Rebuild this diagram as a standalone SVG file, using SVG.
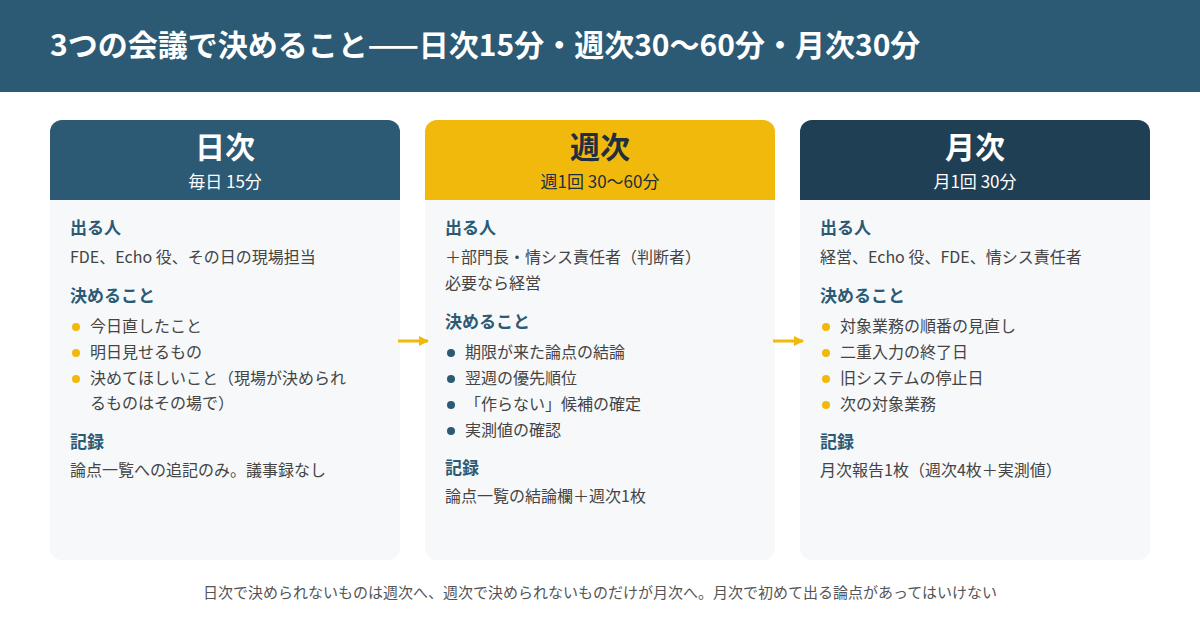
<svg xmlns="http://www.w3.org/2000/svg" width="1200" height="640" viewBox="0 0 1200 640">
<style>
text{font-family:"Noto Sans CJK JP","Noto Sans",sans-serif}
.title{font-size:30px;font-weight:700;fill:#fff}
.ht{font-size:30px;font-weight:700;text-anchor:middle}
.hs{font-size:17px;text-anchor:middle}
.w{fill:#fff}.d{fill:#1f2f3d}
.sec{font-size:17px;font-weight:700;fill:#2c5a74}
.t{font-size:16px;fill:#444}
.body{fill:#f6f8fa}
.foot{font-size:15px;fill:#555;text-anchor:middle}
</style>
<defs>
<marker id="ah" markerWidth="10" markerHeight="10" refX="9" refY="5" orient="auto" markerUnits="userSpaceOnUse"><path d="M0,0 L10,5 L0,10 Z" fill="#f0b90b"/></marker>
</defs>
<rect x="0" y="0" width="1200" height="92" fill="#2c5a74"/>
<text class="title" x="50" y="56">3つの会議で決めること——日次15分・週次30〜60分・月次30分</text>
<g id="daily">
<rect class="body" x="50" y="120" width="350" height="440" rx="12"/>
<path d="M50,200 V132 A12,12 0 0 1 62,120 H388 A12,12 0 0 1 400,132 V200 Z" fill="#2c5a74"/>
<text class="ht w" x="225" y="158">日次</text>
<text class="hs w" x="225" y="188">毎日 15分</text>
<text class="sec" x="70" y="234">出る人</text>
<text class="t" x="70" y="263">FDE、Echo 役、その日の現場担当</text>
<text class="sec" x="70" y="302">決めること</text>
<circle cx="76" cy="327" r="4" fill="#f0b90b"/><text class="t" x="90" y="332">今日直したこと</text>
<circle cx="76" cy="353" r="4" fill="#f0b90b"/><text class="t" x="90" y="358">明日見せるもの</text>
<circle cx="76" cy="379" r="4" fill="#f0b90b"/><text class="t" x="90" y="384">決めてほしいこと（現場が決められ</text>
<text class="t" x="90" y="409">るものはその場で）</text>
<text class="sec" x="70" y="448">記録</text>
<text class="t" x="70" y="476">論点一覧への追記のみ。議事録なし</text>
</g>
<g id="weekly">
<rect class="body" x="425" y="120" width="350" height="440" rx="12"/>
<path d="M425,200 V132 A12,12 0 0 1 437,120 H763 A12,12 0 0 1 775,132 V200 Z" fill="#f0b90b"/>
<text class="ht d" x="600" y="158">週次</text>
<text class="hs d" x="600" y="188">週1回 30〜60分</text>
<text class="sec" x="445" y="234">出る人</text>
<text class="t" x="445" y="263">＋部門長・情シス責任者（判断者）</text>
<text class="t" x="445" y="289">必要なら経営</text>
<text class="sec" x="445" y="328">決めること</text>
<circle cx="451" cy="353" r="4" fill="#2c5a74"/><text class="t" x="465" y="358">期限が来た論点の結論</text>
<circle cx="451" cy="379" r="4" fill="#2c5a74"/><text class="t" x="465" y="384">翌週の優先順位</text>
<circle cx="451" cy="405" r="4" fill="#2c5a74"/><text class="t" x="465" y="410">「作らない」候補の確定</text>
<circle cx="451" cy="431" r="4" fill="#2c5a74"/><text class="t" x="465" y="436">実測値の確認</text>
<text class="sec" x="445" y="474">記録</text>
<text class="t" x="445" y="502">論点一覧の結論欄＋週次1枚</text>
</g>
<g id="monthly">
<rect class="body" x="800" y="120" width="350" height="440" rx="12"/>
<path d="M800,200 V132 A12,12 0 0 1 812,120 H1138 A12,12 0 0 1 1150,132 V200 Z" fill="#1f3f55"/>
<text class="ht w" x="975" y="158">月次</text>
<text class="hs w" x="975" y="188">月1回 30分</text>
<text class="sec" x="820" y="234">出る人</text>
<text class="t" x="820" y="263">経営、Echo 役、FDE、情シス責任者</text>
<text class="sec" x="820" y="302">決めること</text>
<circle cx="826" cy="327" r="4" fill="#f0b90b"/><text class="t" x="840" y="332">対象業務の順番の見直し</text>
<circle cx="826" cy="353" r="4" fill="#f0b90b"/><text class="t" x="840" y="358">二重入力の終了日</text>
<circle cx="826" cy="379" r="4" fill="#f0b90b"/><text class="t" x="840" y="384">旧システムの停止日</text>
<circle cx="826" cy="405" r="4" fill="#f0b90b"/><text class="t" x="840" y="410">次の対象業務</text>
<text class="sec" x="820" y="448">記録</text>
<text class="t" x="820" y="476">月次報告1枚（週次4枚＋実測値）</text>
</g>
<g id="connectors" stroke="#f0b90b" stroke-width="3">
<line x1="398" y1="341" x2="428" y2="341" marker-end="url(#ah)"/>
<line x1="773" y1="341" x2="803" y2="341" marker-end="url(#ah)"/>
</g>
<text class="foot" x="600" y="598">日次で決められないものは週次へ、週次で決められないものだけが月次へ。月次で初めて出る論点があってはいけない</text>
</svg>
